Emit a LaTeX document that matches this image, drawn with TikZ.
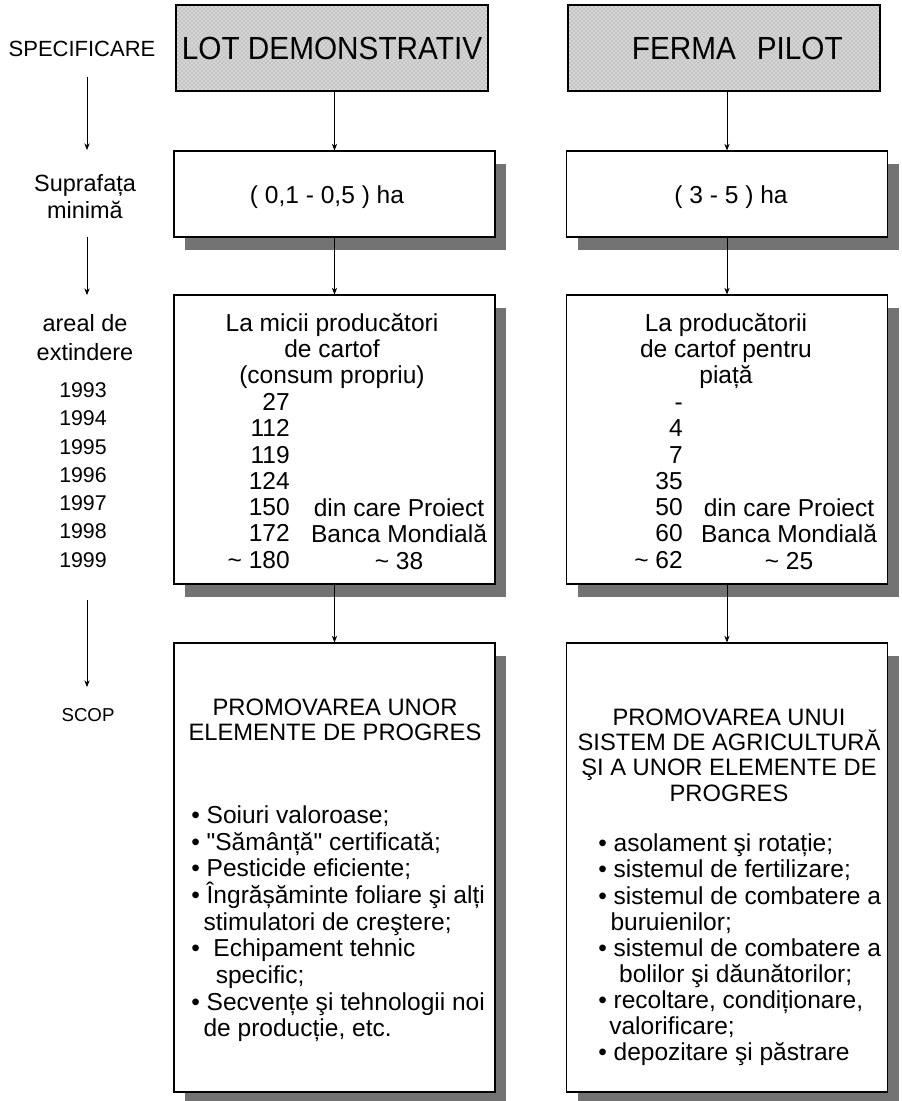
\documentclass[tikz,border=0pt]{standalone}
\usepackage{fontspec}
\setmainfont{Liberation Sans}
\newfontfamily\headfont[FakeStretch=0.93]{Liberation Sans}
\usetikzlibrary{arrows.meta,patterns,shadows}

\tikzset{
	headbox/.style={draw, line width=0.9pt, inner sep=0pt, minimum width=234pt, minimum height=64.5pt,
		preaction={fill=black!16}, pattern=crosshatch dots, pattern color=black!45,
		font=\headfont\fontsize{24}{28}\selectfont},
	infobox/.style={draw, line width=0.9pt, fill=white, inner sep=0pt, minimum width=240.75pt,
		drop shadow={shadow xshift=8.25pt, shadow yshift=-9.75pt, fill=black!55, opacity=1}},
	boxtext/.style={inner sep=0pt, align=center, font=\fontsize{18.4}{19.7}\selectfont},
	listtext/.style={inner sep=0pt, align=left, anchor=west, font=\fontsize{18.4}{20}\selectfont},
	sidelabel/.style={inner sep=0pt, align=center, font=\fontsize{17.6}{20.3}\selectfont},
	flow/.style={-{Stealth[length=5pt,width=4pt]}, line width=0.6pt},
}

\begin{document}
\begin{tikzpicture}[x=0.75pt, y=-0.75pt]
	\useasboundingbox (0,0) rectangle (902,1101);

	% left column labels
	\node [inner sep=0pt, font=\fontsize{16.5}{19}\selectfont] (speclbl) at (82,49) {SPECIFICARE};
	\node [sidelabel] (surflbl) at (85,197) {Suprafața\\minimă};
	\node [sidelabel, font=\fontsize{17.6}{21.75}\selectfont] (arealbl) at (85,338) {areal de\\extindere};
	\node [inner sep=0pt, align=center, font=\fontsize{16}{21.2}\selectfont] (yearlbl) at (83,475)
		{1993\\1994\\1995\\1996\\1997\\1998\\1999};
	\node [inner sep=0pt, font=\fontsize{14}{16}\selectfont] (scoplbl) at (88,715) {SCOP};

	\coordinate (specA) at (87,77);
	\coordinate (specB) at (87,150);
	\coordinate (surfA) at (87,237);
	\coordinate (surfB) at (87,295);
	\coordinate (areaA) at (87,600);
	\coordinate (areaB) at (87,687);

	% boxes
	\node [headbox] (lot) at (332,48) {LOT DEMONSTRATIV};
	\node [headbox] (ferma) at (724,48) {\hspace*{20pt}FERMA\hspace{0.65em}PILOT};

	\node [infobox, minimum height=64.5pt] (surflot) at (334.5,194) {};
	\node [infobox, minimum height=64.5pt] (surfferma) at (727,194) {};
	\node [infobox, minimum height=216.75pt] (arealot) at (334.5,439.5) {};
	\node [infobox, minimum height=216.75pt] (areaferma) at (727,439.5) {};
	\node [infobox, minimum height=336.75pt] (scoplot) at (334.5,867.5) {};
	\node [infobox, minimum height=336.75pt] (scopferma) at (727,867.5) {};

	% texts in the boxes
	\node [boxtext] (surflottxt) at (327,197) {( 0,1 - 0,5 ) ha};
	\node [boxtext] (surffermatxt) at (731,197) {( 3 - 5 ) ha};

	\node [boxtext] (arealothead) at (332,351) {La micii producători\\de cartof\\(consum propriu)};
	\node [boxtext, align=right, anchor=east] (arealotnr) at (290,481)
		{27\\112\\119\\124\\150\\172\\\textasciitilde\ 180};
	\node [boxtext] (arealotbm) at (399,534) {din care Proiect\\Banca Mondială\\\textasciitilde\ 38};

	\node [boxtext] (areafermahead) at (726,351) {La producătorii\\de cartof pentru\\piață};
	\node [boxtext, align=right, anchor=east] (areafermanr) at (683,481)
		{\vphantom{0}-\\4\\7\\35\\50\\60\\\textasciitilde\ 62};
	\node [boxtext] (areafermabm) at (789,534) {din care Proiect\\Banca Mondială\\\textasciitilde\ 25};

	\node [boxtext, font=\fontsize{17.8}{18.75}\selectfont] (scoplothead) at (335,720)
		{PROMOVAREA UNOR\\ELEMENTE DE PROGRES};
	\node [listtext] (scoplotlist) at (191,924)
		{\textbullet\ Soiuri valoroase;\\
		\textbullet\ \textquotedbl Sămânță\textquotedbl\ certificată;\\
		\textbullet\ Pesticide eficiente;\\
		\textbullet\ Îngrășăminte foliare şi alți\\
		\hspace*{0.5em}stimulatori de creştere;\\
		\textbullet\ \ Echipament tehnic\\
		\hspace*{1em}specific;\\
		\textbullet\ Secvențe şi tehnologii noi\\
		\hspace*{0.5em}de producție, etc.};

	\node [boxtext, font=\fontsize{17.8}{19}\selectfont] (scopfermahead) at (729,755)
		{PROMOVAREA UNUI\\SISTEM DE AGRICULTURĂ\\ŞI A UNOR ELEMENTE DE\\PROGRES};
	\node [listtext, font=\fontsize{18.4}{19.6}\selectfont] (scopfermalist) at (598,950)
		{\textbullet\ asolament şi rotație;\\
		\textbullet\ sistemul de fertilizare;\\
		\textbullet\ sistemul de combatere a\\
		\hspace*{0.5em}buruienilor;\\
		\textbullet\ sistemul de combatere a\\
		\hspace*{0.85em}bolilor şi dăunătorilor;\\
		\textbullet\ recoltare, condiționare,\\
		\hspace*{0.45em}valorificare;\\
		\textbullet\ depozitare şi păstrare};

	\path [flow]
	(specA) edge (specB)
	(surfA) edge (surfB)
	(areaA) edge (areaB)
	(lot.south -| surflot) edge (surflot.north)
	(surflot.south) edge (arealot.north)
	(arealot.south) edge (scoplot.north)
	(ferma.south -| surfferma) edge (surfferma.north)
	(surfferma.south) edge (areaferma.north)
	(areaferma.south) edge (scopferma.north);
\end{tikzpicture}
\end{document}
